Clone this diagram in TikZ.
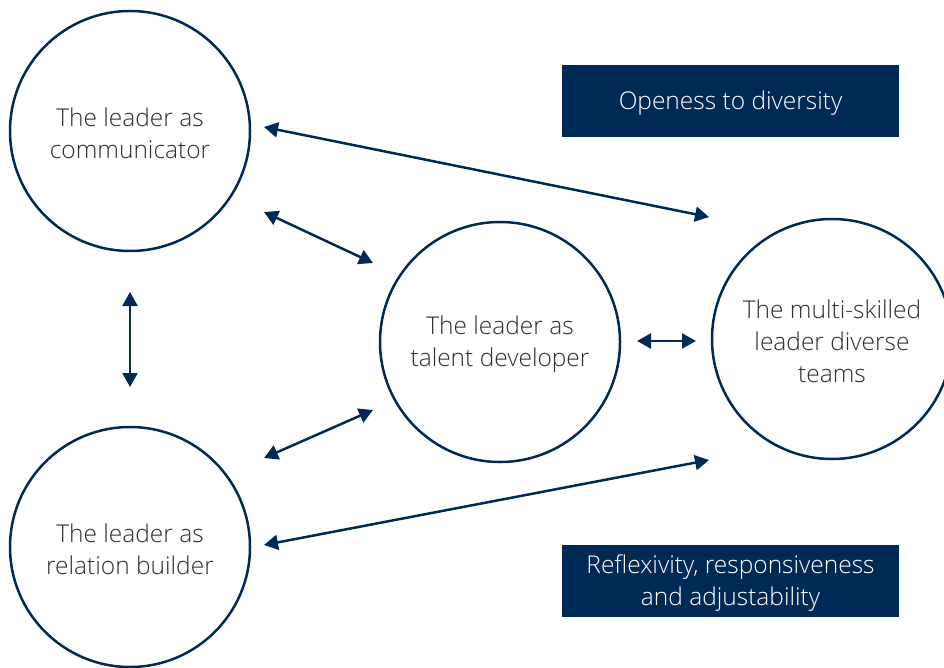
\documentclass[tikz,border=0pt]{standalone}
\usepackage{fontspec}
\setmainfont{Open Sans Light}
\usetikzlibrary{arrows.meta}
\definecolor{navy}{HTML}{002A56}
\definecolor{txt}{HTML}{2E2E2E}
\begin{document}
\begin{tikzpicture}[x=1pt,y=-1pt,
  role/.style={circle,draw=navy,line width=2.5pt,minimum size=240pt,inner sep=0pt},
  roletext/.style={text=txt,align=center,font=\fontsize{24.5}{32}\selectfont,yshift=-2pt},
  tag/.style={fill=navy,minimum width=337pt,minimum height=72pt,inner sep=0pt},
  tagtext/.style={text=white,align=center,font=\fontsize{24.5}{32}\selectfont,yshift=-2.5pt},
  link/.style={draw=navy,line width=2.5pt,{Triangle[length=14pt,width=15pt]}-{Triangle[length=14pt,width=15pt]}}]
\useasboundingbox (0,0) rectangle (944,668);
\begin{scope}
\clip (0,0) rectangle (944,668);
\node[role] (comm) at (130,131) {};
\node[role] (rel) at (130,547) {};
\node[role] (tal) at (500,342) {};
\node[role] (multi) at (832,339) {};
\end{scope}
\node[roletext] (commtext) at (comm.center) {The leader as\\communicator};
\node[roletext] (reltext) at (rel.center) {The leader as\\relation builder};
\node[roletext] (taltext) at (tal.center) {The leader as\\talent developer};
\node[roletext] (multitext) at (multi.center) {The multi-skilled\\leader diverse\\teams};
\node[tag] (open) at (730.5,101) {};
\node[tag] (refl) at (730.5,581) {};
\node[tagtext] (opentext) at (open.center) {Openess to diversity};
\node[tagtext] (refltext) at (refl.center) {Reflexivity, responsiveness\\and adjustability};
% arrow end points beside the circles
\coordinate (c1) at (264,127);  \coordinate (m1) at (709,217);
\coordinate (c2) at (264,212);  \coordinate (t1) at (373,263);
\coordinate (c3) at (130,292);  \coordinate (r1) at (130,387);
\coordinate (r2) at (264,458);  \coordinate (t2) at (373,410);
\coordinate (t3) at (637,341);  \coordinate (m2) at (696,341);
\coordinate (r3) at (264,545);  \coordinate (m3) at (709,460);
\draw[link] (c1) -- (m1);
\draw[link] (c2) -- (t1);
\draw[link] (c3) -- (r1);
\draw[link] (r2) -- (t2);
\draw[link] (t3) -- (m2);
\draw[link] (r3) -- (m3);
\end{tikzpicture}
\end{document}
